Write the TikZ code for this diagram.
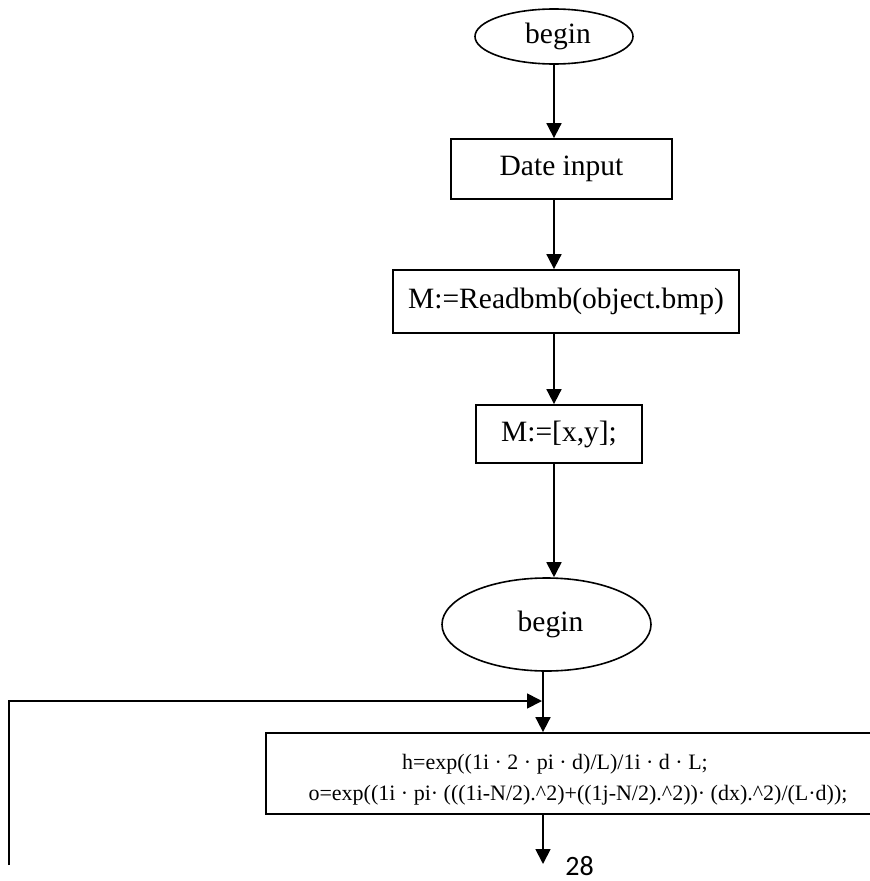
\documentclass[tikz,border=0pt]{standalone}
\usepackage{fontspec}
\setmainfont{Liberation Serif}
\newfontfamily\carl{Carlito}
\usetikzlibrary{shapes.geometric,arrows.meta}
\begin{document}
\begin{tikzpicture}[x=1pt,y=-1pt,
  line/.style={line width=1.8pt},
  arr/.style={line, -{Triangle[length=15pt,width=15pt]}},
  box/.style={draw, line width=1.8pt, rectangle, inner sep=0pt, font=\fontsize{29.5}{34}\selectfont},
  oval/.style={draw, line width=1.6pt, ellipse, inner sep=0pt, font=\fontsize{29.5}{34}\selectfont},
  small/.style={inner sep=0pt, font=\fontsize{22}{26}\selectfont}]
\useasboundingbox (0,0) rectangle (870,881);
\coordinate (ax) at (554,0);
\coordinate (bx) at (543,0);
\node[oval, minimum width=158pt, minimum height=55pt] (b1) at (554,36.5) {\hspace*{8pt}begin};
\node[box, minimum width=221pt, minimum height=60pt] (date) at (561.5,169) {Date input};
\node[box, minimum width=346pt, minimum height=63pt] (read) at (566,301.5) {M:=Readbmb(object.bmp)};
\node[box, minimum width=166pt, minimum height=58pt] (mxy) at (559,434) {M:=[x,y];};
\node[oval, minimum width=209pt, minimum height=93pt] (b2) at (546.5,624.5) {\hspace*{8pt}begin};
\node[box, minimum width=624pt, minimum height=81pt] (calc) at (578,773.5) {};
\node[small] (t1) at (555,764) {h=exp((1i · 2 · pi · d)/L)/1i · d · L;};
\node[small] (t2) at (578,795) {o=exp((1i · pi· (((1i-N/2).\^{}2)+((1j-N/2).\^{}2))· (dx).\^{}2)/(L·d));};
\node[inner sep=0pt, anchor=base, font=\carl\fontsize{28}{32}\selectfont] (pg) at (579.5,875) {28};
\coordinate (loopstart) at (9,865);
\coordinate (join) at (542,701);
\coordinate (out) at (543,864);
\draw[arr] (ax |- b1.south) -- (ax |- date.north);
\draw[arr] (ax |- date.south) -- (ax |- read.north);
\draw[arr] (ax |- read.south) -- (ax |- mxy.north);
\draw[arr] (ax |- mxy.south) -- (ax |- b2.north);
\draw[arr] (bx |- b2.south) -- (bx |- calc.north);
\draw[arr] (loopstart) |- (join);
\draw[arr] (bx |- calc.south) -- (out);
\end{tikzpicture}
\end{document}
